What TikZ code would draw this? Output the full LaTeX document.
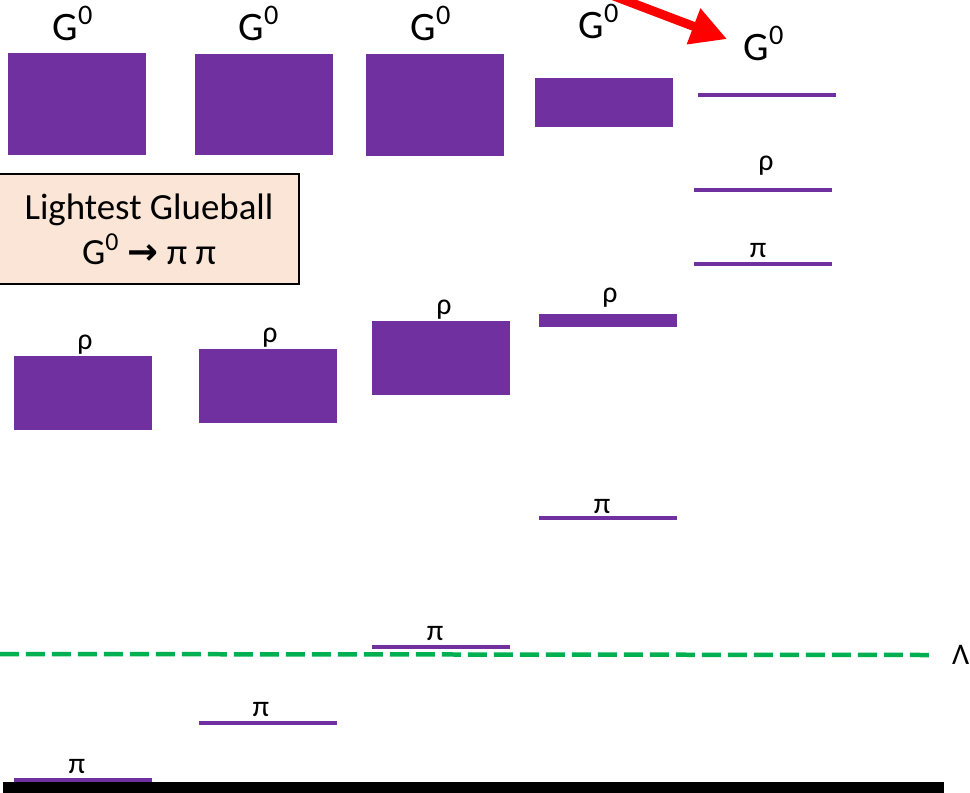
\documentclass[tikz,border=0pt]{standalone}
\usepackage{fontspec}
\setmainfont{Carlito}
\newfontfamily\arrowfont{DejaVu Sans}
\usetikzlibrary{arrows.meta}
\definecolor{gluepurple}{RGB}{112,48,160}
\definecolor{boxpeach}{RGB}{251,229,214}
\definecolor{cutgreen}{RGB}{0,176,80}
\definecolor{pointred}{RGB}{255,0,0}
\tikzset{
  level/.style={fill=gluepurple, inner sep=0pt, minimum width=2.76cm},
  tall/.style={level, minimum height=2.04cm},
  broad/.style={level, minimum height=1.48cm},
  sharp/.style={level, minimum height=0.07cm},
  glabel/.style={anchor=base, font=\fontsize{23}{27}\selectfont},
  mlabel/.style={anchor=base, font=\fontsize{17}{20}\selectfont},
  notebox/.style={draw=black, line width=0.8pt, fill=boxpeach, align=center,
                  minimum width=6cm, minimum height=2.2cm,
                  font=\fontsize{21}{25.5}\selectfont},
  cutoff/.style={cutgreen, line width=0.09cm, dash pattern=on 0.38cm off 0.14cm},
  pointer/.style={pointred, line width=0.18cm,
                  -{Triangle[length=0.72cm, width=0.72cm]}}
}

\begin{document}
\begin{tikzpicture}[x=0.02cm, y=-0.02cm]
  \clip (0,0) rectangle (970,792);

  % Column 1
  \node[tall]  (g1) at (77,104) {};
  \node[glabel] (g1l) at (73,40) {G\textsuperscript{0}};
  \node[broad] (r1) at (83,393) {};
  \node[mlabel] (r1l) at (85,349) {ρ};
  \node[sharp] (p1) at (83,780) {};
  \node[mlabel] (p1l) at (77,773) {π};

  % Column 2
  \node[tall]  (g2) at (264,104.5) {};
  \node[glabel] (g2l) at (259,40) {G\textsuperscript{0}};
  \node[broad] (r2) at (268,386) {};
  \node[mlabel] (r2l) at (270,342) {ρ};
  \node[sharp] (p2) at (268,723) {};
  \node[mlabel] (p2l) at (261,716) {π};

  % Column 3
  \node[tall]  (g3) at (435,105) {};
  \node[glabel] (g3l) at (431,40) {G\textsuperscript{0}};
  \node[broad] (r3) at (441,358) {};
  \node[mlabel] (r3l) at (444,314) {ρ};
  \node[sharp] (p3) at (441,647) {};
  \node[mlabel] (p3l) at (435,640) {π};

  % Column 4
  \node[level, minimum height=0.98cm] (g4) at (604,102.5) {};
  \node[glabel] (g4l) at (599,38) {G\textsuperscript{0}};
  \node[level, minimum height=0.26cm] (r4) at (608,320) {};
  \node[mlabel] (r4l) at (610,302) {ρ};
  \node[sharp] (p4) at (608,518) {};
  \node[mlabel] (p4l) at (602,513) {π};

  % Column 5
  \node[sharp] (g5) at (767,95) {};
  \node[glabel] (g5l) at (764,60) {G\textsuperscript{0}};
  \node[sharp] (r5) at (763,190) {};
  \node[mlabel] (r5l) at (766,170) {ρ};
  \node[sharp] (p5) at (763,264) {};
  \node[mlabel] (p5l) at (758,257) {π};

  % note on the lightest state
  \node[notebox] (note) at (149,229)
    {Lightest Glueball\\G\textsuperscript{0} {\arrowfont\bfseries →} π π};

  % pointer to the last column
  \coordinate (tail) at (598,-10);
  \draw[pointer, shorten >=0.22cm] (tail) -- (g5l.west);

  % cutoff scale
  \node[anchor=west, font=\fontsize{17}{20}\selectfont] (lam) at (946,655) {Λ};
  \coordinate (cutstart) at (0,654);
  \draw[cutoff] (cutstart) -- ([xshift=-0.26cm]lam.west);

  % bottom axis
  \fill[black] (3,782) rectangle (944,795);
\end{tikzpicture}
\end{document}
